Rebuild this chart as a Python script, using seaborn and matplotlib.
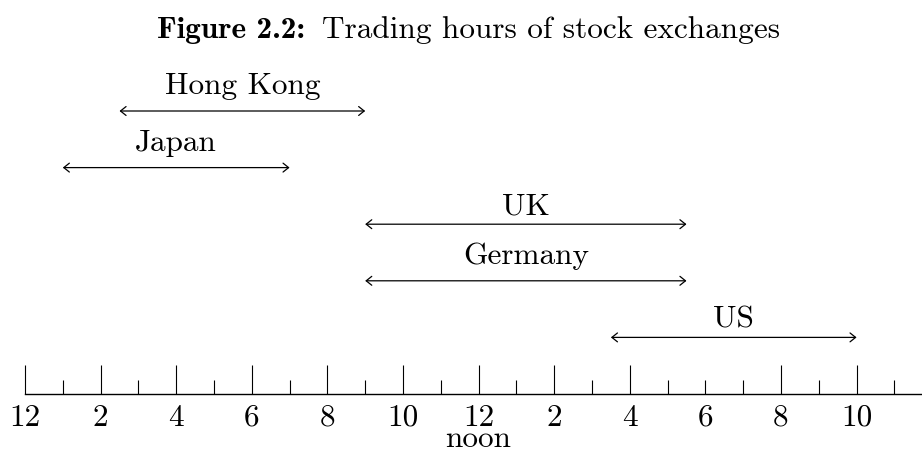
import matplotlib
matplotlib.use('Agg')
import matplotlib.pyplot as plt
import seaborn as sns

# Trading hours (hours after midnight)
exchanges = ['Hong Kong', 'Japan', 'UK', 'Germany', 'US']
open_hour = [2.5, 1, 9, 9, 15.5]
close_hour = [9, 7, 17.5, 17.5, 22]

# Time axis
label_hours = list(range(0, 24, 2))
hour_labels = ['12', '2', '4', '6', '8', '10', '12', '2', '4', '6', '8', '10']
minor_hours = list(range(1, 24, 2))
short_major = [18]
noon_hour = 12

sns.set_theme(style='white')
plt.rcParams['font.family'] = ['cmr10']
plt.rcParams['axes.formatter.use_mathtext'] = True
plt.rcParams['axes.unicode_minus'] = False

W, H = 922, 450
fig = plt.figure(figsize=(W / 100, H / 100), dpi=100)
ax = fig.add_axes([0, 0, 1, 1])
ax.set_facecolor('white')

# pixel layout
px_hr = 37.8
x0 = 25
row_px = 56.6
base_px = 56
xmax = (W - x0) / px_hr
ax.set_xlim(-x0 / px_hr, xmax)
ax.set_ylim(-base_px / row_px, (H - base_px) / row_px)

fs = 22.5
n = len(exchanges)
for i, (name, a, b) in enumerate(zip(exchanges, open_hour, close_hour)):
    lvl = n - i
    ax.annotate('', xy=(b, lvl), xytext=(a, lvl),
                arrowprops=dict(arrowstyle='<->,head_length=0.5,head_width=0.4',
                                lw=0.9, color='black', shrinkA=0, shrinkB=0,
                                mutation_scale=8))
    # labels with descenders sit higher (like a TeX node)
    lift = 17 if any(c in 'gjpqy' for c in name) else 10
    ax.annotate(name, xy=((a + b) / 2, lvl), xytext=(0, lift * 0.72),
                textcoords='offset points', ha='center', va='baseline',
                fontsize=fs, color='black')

# axis line with hour ticks
sns.despine(ax=ax, left=True, top=True, right=True)
ax.spines['bottom'].set_position(('data', 0))
ax.spines['bottom'].set_bounds(0, xmax)
ax.spines['bottom'].set_color('black')
ax.spines['bottom'].set_linewidth(1.0)
ax.set_xticks(label_hours, hour_labels, fontsize=fs)
ax.set_xticks(minor_hours, minor=True)
ax.tick_params(axis='x', which='major', direction='in', length=20.9, width=0.8,
               pad=7, colors='black', bottom=True)
ax.tick_params(axis='x', which='minor', direction='in', length=10, width=0.8,
               colors='black', bottom=True)
ax.set_yticks([])
for t, h in zip(ax.xaxis.get_major_ticks(), label_hours):
    if h in short_major:
        t.tick1line.set_markersize(10)

ax.annotate('noon', xy=(noon_hour, 0), xytext=(0, -(447 - 394) * 0.72),
            textcoords='offset points', ha='center', va='baseline',
            fontsize=fs, color='black')

# caption: bold label + plain text
fig.text(305 / W, 1 - 38 / H, 'Figure 2.2:', family='cmb10',
         ha='right', va='baseline', fontsize=fs, color='black')
fig.text(322 / W, 1 - 38 / H, 'Trading hours of stock exchanges',
         ha='left', va='baseline', fontsize=fs, color='black')

fig.savefig('out.png', dpi=100)
